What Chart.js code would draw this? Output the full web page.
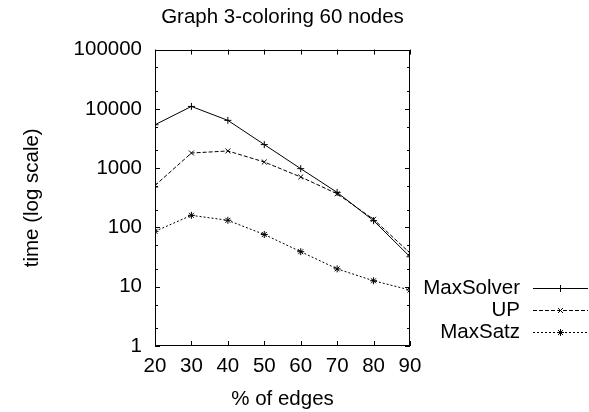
<!DOCTYPE html>
<html>
<head>
<meta charset="utf-8">
<script src="https://cdn.jsdelivr.net/npm/chart.js@4.4.1/dist/chart.umd.min.js"></script>
<style>
  html, body { margin: 0; padding: 0; background: #fff; }
</style>
</head>
<body>
<canvas id="chart" width="589" height="412"></canvas>
<script>
// % of edges vs. run time, 60-node 3-coloring instances
const edgePercent = [20, 30, 40, 50, 60, 70, 80, 90];
const maxSolverTime = [5400, 11000, 6400, 2500, 980, 390, 130, 32];
const upTime = [510, 1800, 1950, 1270, 710, 370, 137, 37];
const maxSatzTime = [86, 160, 132, 76, 39, 20, 12.6, 8.8];
const yTickValues = [1, 10, 100, 1000, 10000, 100000];
const yMinorSteps = [2, 5];

const FONT = { family: '"Liberation Sans", Arial, sans-serif', size: 20.5, weight: 'normal' };

function toPoints(ys) {
  return edgePercent.map((x, i) => ({ x: x, y: ys[i] }));
}

function series(label, ys, dash, style) {
  return {
    label: label,
    data: toPoints(ys),
    borderColor: '#000',
    backgroundColor: '#000',
    borderWidth: 1,
    borderDash: dash,
    pointStyle: style,
    pointRadius: 3.5,
    pointBorderWidth: 1,
    pointBorderColor: '#000',
    tension: 0,
    fill: false
  };
}

// box around the plot with inward ticks on all four sides
const frameTicks = {
  id: 'frameTicks',
  afterDatasetsDraw(chart) {
    const { ctx, chartArea: a, scales: { x, y } } = chart;
    ctx.save();
    ctx.strokeStyle = '#000';
    ctx.lineWidth = 1;
    ctx.setLineDash([]);
    ctx.beginPath();
    x.ticks.forEach(t => {
      const px = Math.round(x.getPixelForValue(t.value)) + 0.5;
      ctx.moveTo(px, a.bottom); ctx.lineTo(px, a.bottom - 5);
      ctx.moveTo(px, a.top); ctx.lineTo(px, a.top + 5);
    });
    yTickValues.forEach(v => {
      const py = Math.round(y.getPixelForValue(v)) + 0.5;
      ctx.moveTo(a.left, py); ctx.lineTo(a.left + 5, py);
      ctx.moveTo(a.right, py); ctx.lineTo(a.right - 5, py);
      if (v < 100000) {
        yMinorSteps.forEach(m => {
          const pm = Math.round(y.getPixelForValue(v * m)) + 0.5;
          ctx.moveTo(a.left, pm); ctx.lineTo(a.left + 3, pm);
          ctx.moveTo(a.right, pm); ctx.lineTo(a.right - 3, pm);
        });
      }
    });
    ctx.stroke();
    ctx.strokeRect(Math.round(a.left) + 0.5, Math.round(a.top) + 0.5,
      Math.round(a.width) - 1, Math.round(a.height) - 1);
    ctx.restore();
  }
};

// key to the right of the plot: label, then line sample with its point
const sideKey = {
  id: 'sideKey',
  afterDraw(chart) {
    const { ctx, chartArea: a } = chart;
    const textRight = a.right + 110;
    const lineFrom = a.right + 123;
    const lineTo = a.right + 178;
    ctx.save();
    ctx.font = FONT.size + 'px ' + FONT.family;
    ctx.textAlign = 'right';
    ctx.textBaseline = 'middle';
    chart.data.datasets.forEach((ds, i) => {
      const rowY = Math.round(a.top + 238 + i * 22) + 0.5;
      ctx.fillStyle = '#000';
      ctx.fillText(ds.label, textRight, rowY);
      ctx.strokeStyle = '#000';
      ctx.lineWidth = 1;
      ctx.setLineDash(ds.borderDash);
      ctx.beginPath();
      ctx.moveTo(lineFrom, rowY);
      ctx.lineTo(lineTo, rowY);
      ctx.stroke();
      ctx.setLineDash([]);
      Chart.helpers.drawPoint(ctx, {
        pointStyle: ds.pointStyle, radius: ds.pointRadius, borderWidth: 1, rotation: 0
      }, (lineFrom + lineTo) / 2, rowY);
    });
    ctx.restore();
  }
};

new Chart(document.getElementById('chart'), {
  type: 'line',
  data: {
    datasets: [
      series('MaxSolver', maxSolverTime, [], 'cross'),
      series('UP', upTime, [4, 2], 'crossRot'),
      series('MaxSatz', maxSatzTime, [2, 2], 'star')
    ]
  },
  options: {
    responsive: false,
    animation: false,
    devicePixelRatio: 1,
    layout: { padding: { left: 0, right: 179, top: 0, bottom: 0 } },
    plugins: {
      legend: { display: false },
      tooltip: { enabled: false },
      title: {
        display: true,
        text: 'Graph 3-coloring 60 nodes',
        fullSize: false,
        color: '#000',
        font: FONT,
        padding: { top: 5, bottom: 20 }
      }
    },
    scales: {
      x: {
        type: 'linear',
        min: 20,
        max: 90,
        grid: { display: false, drawTicks: false },
        border: { display: false },
        ticks: { stepSize: 10, color: '#000', font: FONT, padding: 8, maxRotation: 0 },
        title: { display: true, text: '% of edges', color: '#000', font: FONT, padding: { top: 3, bottom: 0 } },
        afterFit(s) { s.height = 66; }
      },
      y: {
        type: 'logarithmic',
        min: 1,
        max: 100000,
        grid: { display: false, drawTicks: false },
        border: { display: false },
        afterBuildTicks(s) { s.ticks = yTickValues.map(v => ({ value: v })); },
        ticks: { color: '#000', font: FONT, padding: 13, callback: v => String(v) },
        title: { display: true, text: 'time (log scale)', color: '#000', font: FONT, padding: { top: 20, bottom: 0 } },
        afterFit(s) { s.width = 155; }
      }
    }
  },
  plugins: [frameTicks, sideKey]
});
</script>
</body>
</html>
